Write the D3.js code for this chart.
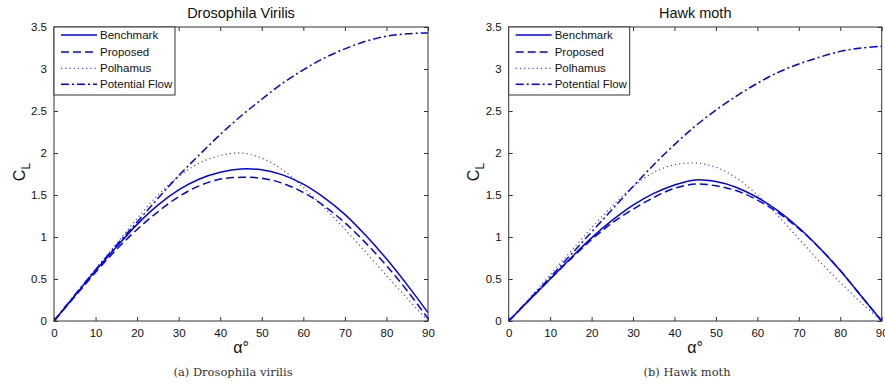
<!DOCTYPE html>
<html><head><meta charset="utf-8">
<script src="https://cdn.jsdelivr.net/npm/d3@7"></script>
<style>body{margin:0;background:#fff}svg{display:block}</style>
</head><body>
<svg id="c" width="885" height="390"></svg>
<script>
const alpha = [0,5,10,15,20,25,30,35,40,45,50,55,60,65,70,75,80,85,90];
const xTicks = [0,10,20,30,40,50,60,70,80,90];
const yTicks = [0,0.5,1,1.5,2,2.5,3,3.5];
const seriesNames = ["Benchmark","Proposed","Polhamus","Potential Flow"];
const titles = ["Drosophila Virilis","Hawk moth"];
const captions = ["(a) Drosophila virilis","(b) Hawk moth"];

// Drosophila virilis
const dvBenchmark = [0,0.30,0.60,0.88,1.15,1.38,1.56,1.69,1.77,1.81,1.80,1.74,1.63,1.47,1.27,1.02,0.74,0.43,0.10];
const dvProposed  = [0,0.29,0.58,0.85,1.09,1.30,1.48,1.61,1.69,1.71,1.70,1.64,1.53,1.37,1.17,0.93,0.66,0.36,0.03];
const dvPolhamus  = [0,0.31,0.62,0.92,1.22,1.50,1.72,1.88,1.97,2.00,1.94,1.80,1.59,1.35,1.09,0.82,0.54,0.27,0.00];
const dvPotential = [0,0.31,0.61,0.90,1.18,1.46,1.73,1.98,2.22,2.44,2.64,2.83,2.99,3.13,3.24,3.33,3.39,3.42,3.43];
// Hawk moth
const hmBenchmark = [0,0.25,0.50,0.75,0.99,1.20,1.38,1.52,1.62,1.68,1.66,1.59,1.47,1.31,1.11,0.87,0.60,0.30,0.00];
const hmProposed  = [0,0.25,0.50,0.74,0.97,1.17,1.33,1.47,1.58,1.63,1.61,1.55,1.44,1.29,1.10,0.87,0.60,0.30,0.00];
const hmPolhamus  = [0,0.27,0.55,0.83,1.11,1.37,1.60,1.77,1.86,1.88,1.83,1.70,1.50,1.25,0.98,0.71,0.46,0.22,0.00];
const hmPotential = [0,0.26,0.52,0.79,1.06,1.33,1.60,1.86,2.10,2.32,2.51,2.68,2.83,2.96,3.06,3.14,3.21,3.25,3.27];

(function(){
const panels = [
  {left:54, right:428, series:[dvBenchmark,dvProposed,dvPolhamus,dvPotential], title:titles[0], caption:captions[0], capX:233, ylabX:19},
  {left:508.7, right:881.7, series:[hmBenchmark,hmProposed,hmPolhamus,hmPotential], title:titles[1], caption:captions[1], capX:687, ylabX:473}
];
const styles = [
  {dash:null, w:1.5, op:1},
  {dash:"8,4", w:1.5, op:1},
  {dash:"1.2,3", w:1.2, op:0.75},
  {dash:"8,3,2,3", w:1.5, op:1}
];
const plotTop = 27, plotBottom = 321;
const svg = d3.select("#c");
const font = "Liberation Sans, Arial, sans-serif";

panels.forEach(p => {
  const x = d3.scaleLinear().domain([0,90]).range([p.left,p.right]);
  const y = d3.scaleLinear().domain([0,3.5]).range([plotBottom,plotTop]);
  const g = svg.append("g");
  const line = d3.line().x((d,i)=>x(alpha[i])).y(d=>y(d)).curve(d3.curveCatmullRom);
  p.series.forEach((s,k) => {
    g.append("path").datum(s).attr("d",line).attr("fill","none")
      .attr("stroke","#0000ff").attr("stroke-width",styles[k].w)
      .attr("stroke-opacity",styles[k].op)
      .attr("stroke-dasharray",styles[k].dash);
  });
  const ax = g.append("g").attr("font-family",font);
  const bx = ax.append("g").attr("transform",`translate(0,${plotBottom})`)
    .call(d3.axisBottom(x).tickValues(xTicks).tickSizeInner(-4).tickSizeOuter(0).tickPadding(8));
  const tx = ax.append("g").attr("transform",`translate(0,${plotTop})`)
    .call(d3.axisTop(x).tickValues(xTicks).tickSizeInner(-4).tickSizeOuter(0).tickFormat(""));
  const ly = ax.append("g").attr("transform",`translate(${p.left},0)`)
    .call(d3.axisLeft(y).tickValues(yTicks).tickSizeInner(-4).tickSizeOuter(0).tickPadding(7).tickFormat(d3.format("")));
  const ry = ax.append("g").attr("transform",`translate(${p.right},0)`)
    .call(d3.axisRight(y).tickValues(yTicks).tickSizeInner(-4).tickSizeOuter(0).tickFormat(""));
  [bx,tx,ly,ry].forEach(a=>{
    a.selectAll(".domain").remove();
    a.selectAll("line").attr("stroke","#333");
    a.selectAll("text").attr("font-size","11.5px").attr("fill","#111").attr("font-family",font);
  });
  g.append("rect").attr("x",p.left).attr("y",plotTop).attr("width",p.right-p.left).attr("height",plotBottom-plotTop)
    .attr("fill","none").attr("stroke","#333").attr("stroke-width",1);
  g.append("text").attr("x",(p.left+p.right)/2).attr("y",18).attr("text-anchor","middle")
    .attr("font-family",font).attr("font-size","14.5px").attr("fill","#111").text(p.title);
  g.append("text").attr("x",(p.left+p.right)/2).attr("y",353).attr("text-anchor","middle")
    .attr("font-family",font).attr("font-size","16px").attr("fill","#111").text("α°");
  const yl = g.append("text").attr("transform",`translate(${p.ylabX+6},172) rotate(-90)`)
    .attr("text-anchor","middle").attr("font-family",font).attr("font-size","16px").attr("fill","#111");
  yl.append("tspan").text("C");
  yl.append("tspan").attr("dy","5").attr("font-size","12px").text("L");
  g.append("text").attr("x",p.capX).attr("y",376).attr("text-anchor","middle")
    .attr("font-family","DejaVu Serif, Liberation Serif, serif").attr("font-size","11.5px").attr("fill","#333").text(p.caption);
  const lg = g.append("g");
  lg.append("rect").attr("x",p.left).attr("y",plotTop).attr("width",121).attr("height",68)
    .attr("fill","#fff").attr("stroke","#333").attr("stroke-width",1);
  const rows = [35,52,68.3,84.3];
  seriesNames.forEach((n,k)=>{
    lg.append("line").attr("x1",p.left+7).attr("x2",p.left+43).attr("y1",rows[k]).attr("y2",rows[k])
      .attr("stroke","#0000ff").attr("stroke-width",styles[k].w).attr("stroke-opacity",styles[k].op)
      .attr("stroke-dasharray",styles[k].dash);
    lg.append("text").attr("x",p.left+46).attr("y",rows[k]+4).attr("font-family",font)
      .attr("font-size","11.5px").attr("fill","#111").text(n);
  });
});
})();
</script>
</body></html>
